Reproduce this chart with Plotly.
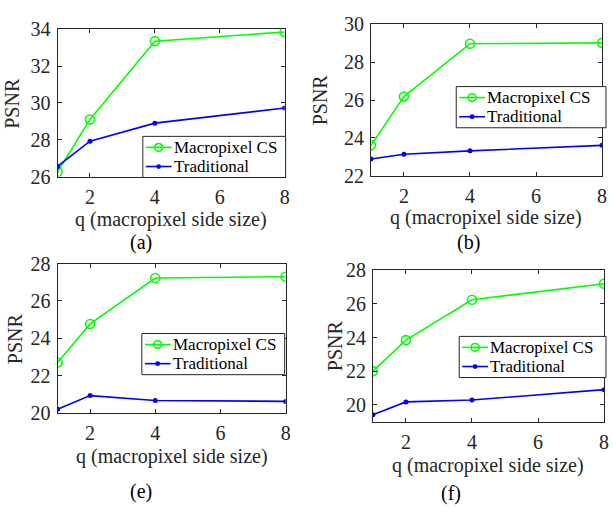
import plotly.graph_objects as go

q = [1, 2, 4, 8]
panels = ["(a)", "(b)", "(e)", "(f)"]
series_names = ["Macropixel CS", "Traditional"]
macro_a = [26.25, 29.1, 33.35, 33.85]
trad_a = [26.55, 27.92, 28.9, 29.72]
macro_b = [23.6, 26.18, 28.98, 29.02]
trad_b = [22.88, 23.13, 23.31, 23.6]
macro_e = [22.7, 24.77, 27.23, 27.3]
trad_e = [20.2, 20.93, 20.67, 20.62]
macro_f = [22.0, 23.85, 26.25, 27.2]
trad_f = [19.4, 20.17, 20.28, 20.9]
y_ranges = [[26, 34], [22, 30], [20, 28], [19, 28]]
x_ticks = [2, 4, 6, 8]
macro_series = [macro_a, macro_b, macro_e, macro_f]
trad_series = [trad_a, trad_b, trad_e, trad_f]

W, H = 613, 512
FONT = "Liberation Serif"
AX = "#262626"
GREEN = "#00ff00"
BLUE = "#0000ff"

# pixel boxes of axes (left, top, right, bottom)
boxes = [(58, 19, 287, 173), (374, 14, 607, 172), (58, 264, 288, 420), (376, 271, 609, 429)]
# legend boxes (left, top, right, bottom)
legend_boxes = [(144, 131, 288, 174), (460, 79, 611, 122), (143, 337, 287, 380), (463, 340, 611, 383)]
xtitle_y = [218, 216, 465, 475]
cap_pos = [(142, 242), (472, 242), (142, 502), (455, 504)]
ylab_x = [12, 323, 15, 338]


def px(x):
    return x / W


def py(y):
    return 1 - y / H


fig = go.Figure()
layout = dict(width=W, height=H, margin=dict(l=0, r=0, t=0, b=0),
              paper_bgcolor="white", plot_bgcolor="white", showlegend=False,
              font=dict(family=FONT, size=20, color="#262626"))
annotations = []
shapes = []
for i in range(4):
    s = "" if i == 0 else str(i + 1)
    l, t, r, b = boxes[i]
    fig.add_trace(go.Scatter(x=q, y=macro_series[i], mode="lines+markers", name=series_names[0],
                             line=dict(color=GREEN, width=1.6),
                             marker=dict(symbol="circle-open", size=9, color=GREEN, line=dict(width=1.6)),
                             xaxis="x" + s, yaxis="y" + s))
    fig.add_trace(go.Scatter(x=q, y=trad_series[i], mode="lines+markers", name=series_names[1],
                             line=dict(color=BLUE, width=1.6),
                             marker=dict(symbol="circle", size=5, color=BLUE),
                             xaxis="x" + s, yaxis="y" + s))
    layout["xaxis" + s] = dict(domain=[px(l), px(r)], range=[1, 8], tickvals=x_ticks,
                               anchor="y" + s, showline=True, linecolor=AX, linewidth=1,
                               mirror="ticks", ticks="inside", ticklen=4, tickcolor=AX,
                               showgrid=False, zeroline=False, ticklabelstandoff=2,
                               tickfont=dict(size=20, family=FONT, color="#262626"))
    yr = y_ranges[i]
    layout["yaxis" + s] = dict(domain=[py(b), py(t)], range=yr,
                               tickvals=list(range(int(yr[0]) + (int(yr[0]) % 2), int(yr[1]) + 1, 2)),
                               anchor="x" + s, showline=True, linecolor=AX, linewidth=1,
                               mirror="ticks", ticks="inside", ticklen=4, tickcolor=AX,
                               showgrid=False, zeroline=False, ticklabelstandoff=2,
                               tickfont=dict(size=20, family=FONT, color="#262626"))
    # legend box (drawn above the plot lines)
    bl, bt, br, bb = legend_boxes[i]
    shapes.append(dict(type="rect", xref="paper", yref="paper", x0=px(bl), x1=px(br), y0=py(bb), y1=py(bt),
                       fillcolor="white", line=dict(color=AX, width=1), layer="above"))
    for k, (name, col) in enumerate(zip(series_names, [GREEN, BLUE])):
        ry = bt + 11.5 + 20 * k
        shapes.append(dict(type="line", xref="paper", yref="paper", x0=px(bl + 3), x1=px(bl + 29),
                           y0=py(ry), y1=py(ry), line=dict(color=col, width=1.6), layer="above"))
        cxm = bl + 16
        if k == 0:
            shapes.append(dict(type="circle", xref="paper", yref="paper", x0=px(cxm - 4), x1=px(cxm + 4),
                               y0=py(ry + 4), y1=py(ry - 4), fillcolor="rgba(0,0,0,0)",
                               line=dict(color=col, width=1.6), layer="above"))
        else:
            shapes.append(dict(type="circle", xref="paper", yref="paper", x0=px(cxm - 2.5), x1=px(cxm + 2.5),
                               y0=py(ry + 2.5), y1=py(ry - 2.5), fillcolor=col,
                               line=dict(color=col, width=0), layer="above"))
        annotations.append(dict(text=name, x=px(bl + 30), y=py(ry), xref="paper", yref="paper",
                                showarrow=False, xanchor="left", yanchor="middle", borderpad=0,
                                font=dict(size=17, family=FONT, color="#000000")))
    annotations.append(dict(text="q (macropixel side size)", x=px((l + r) / 2), y=py(xtitle_y[i]),
                            xref="paper", yref="paper", showarrow=False, xanchor="center", yanchor="middle",
                            borderpad=0, font=dict(size=20, family=FONT, color="#262626")))
    annotations.append(dict(text="PSNR", x=px(ylab_x[i]), y=py((t + b) / 2), textangle=-90,
                            xref="paper", yref="paper", showarrow=False, xanchor="center", yanchor="middle",
                            borderpad=0, font=dict(size=20, family=FONT, color="#262626")))
    cx, cy = cap_pos[i]
    annotations.append(dict(text=panels[i], x=px(cx), y=py(cy),
                            xref="paper", yref="paper", showarrow=False, xanchor="center", yanchor="middle",
                            borderpad=0, font=dict(size=20, family=FONT, color="#000000")))
layout["annotations"] = annotations
layout["shapes"] = shapes
fig.update_layout(**layout)
fig.write_html("out.html")
